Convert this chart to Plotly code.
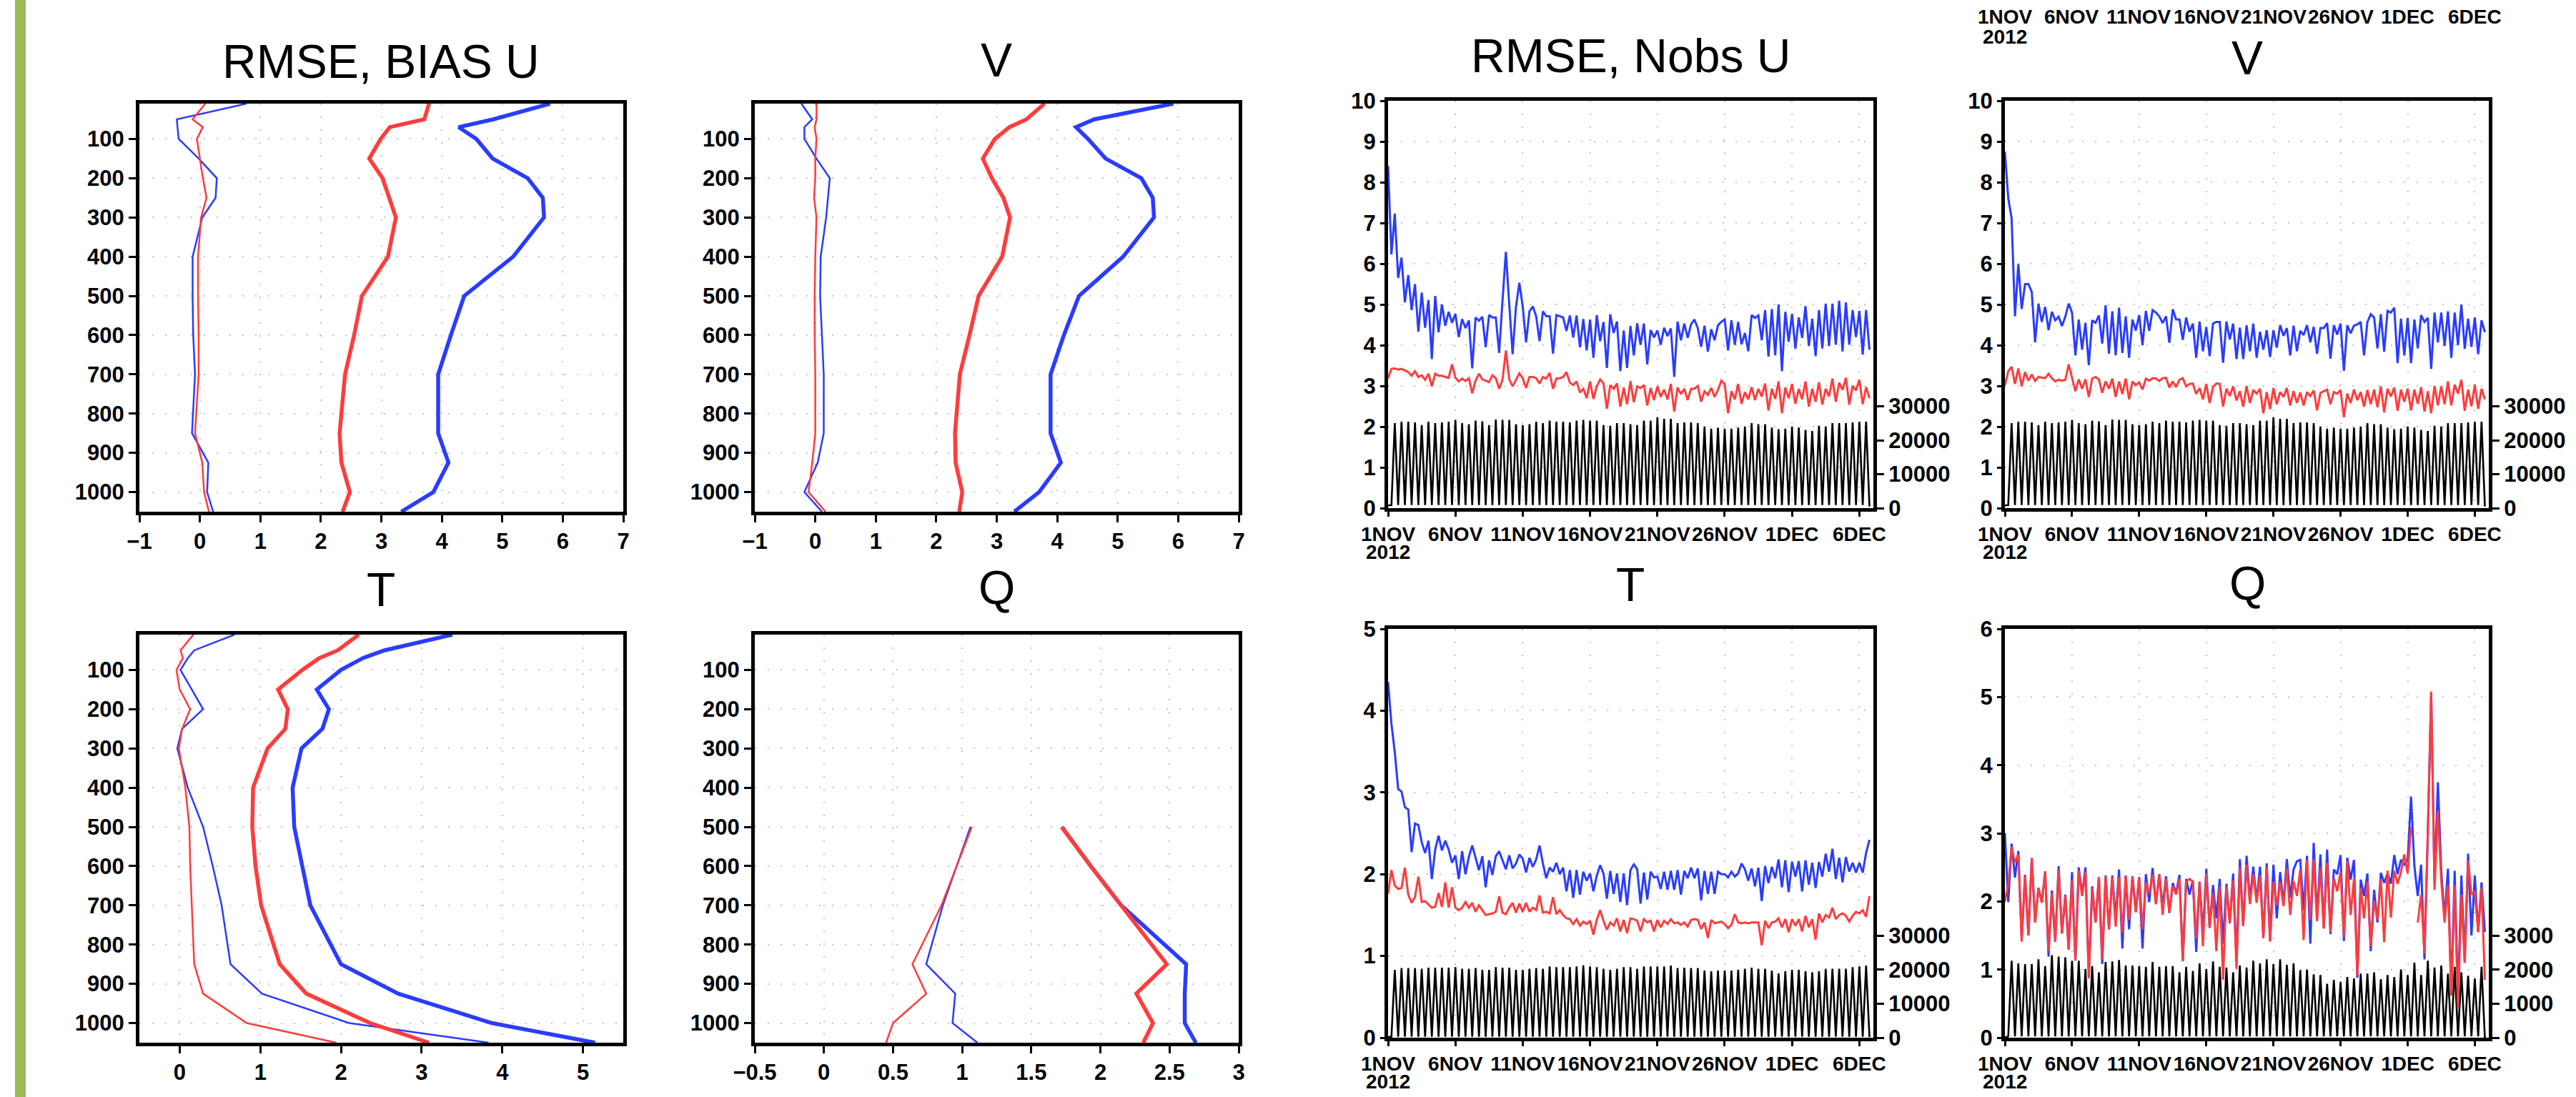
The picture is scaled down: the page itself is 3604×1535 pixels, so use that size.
import plotly.graph_objects as go
import pandas as pd

W, H = 3604, 1535

# ---------------- vertical profiles (pressure levels, hPa) ----------------
levels = [10, 50, 70, 100, 150, 200, 250, 300, 400, 500, 600, 700, 850, 925, 1000, 1050]
q_levels = [500, 600, 700, 850, 925, 1000, 1050]

u_rmse_blue = [5.79, 4.85, 4.28, 4.57, 4.84, 5.42, 5.67, 5.69, 5.18, 4.37, 4.15, 3.94, 3.94, 4.11, 3.86, 3.33]
u_rmse_red = [3.79, 3.71, 3.14, 2.99, 2.80, 3.02, 3.13, 3.24, 3.11, 2.68, 2.55, 2.40, 2.31, 2.34, 2.48, 2.36]
u_bias_blue = [0.77, -0.38, -0.37, -0.35, -0.02, 0.28, 0.26, 0.04, -0.12, -0.12, -0.11, -0.08, -0.13, 0.14, 0.12, 0.22]
u_bias_red = [0.09, -0.12, 0.05, -0.05, 0.0, 0.05, 0.11, 0.02, -0.03, -0.03, -0.02, -0.02, -0.08, 0.04, 0.07, 0.15]

v_rmse_blue = [5.92, 4.61, 4.31, 4.51, 4.80, 5.39, 5.58, 5.60, 5.09, 4.36, 4.11, 3.89, 3.89, 4.06, 3.70, 3.29]
v_rmse_red = [3.79, 3.49, 3.21, 2.97, 2.77, 2.92, 3.11, 3.22, 3.09, 2.70, 2.55, 2.39, 2.31, 2.32, 2.43, 2.38]
v_bias_blue = [-0.23, -0.05, -0.18, -0.18, 0.02, 0.24, 0.21, 0.18, 0.09, 0.08, 0.11, 0.14, 0.14, 0.04, -0.18, 0.11]
v_bias_red = [0.02, 0.02, -0.01, 0.02, 0.0, 0.0, -0.02, 0.02, 0.0, -0.01, -0.01, 0.0, 0.0, -0.05, -0.11, 0.17]

t_rmse_blue = [3.38, 2.54, 2.27, 2.0, 1.70, 1.85, 1.77, 1.51, 1.40, 1.42, 1.52, 1.62, 2.0, 2.71, 3.87, 5.15]
t_rmse_red = [2.22, 1.96, 1.73, 1.52, 1.22, 1.34, 1.31, 1.09, 0.91, 0.90, 0.94, 1.01, 1.24, 1.57, 2.36, 3.09]
t_bias_blue = [0.68, 0.18, 0.10, 0.01, 0.15, 0.29, 0.03, -0.03, 0.10, 0.29, 0.41, 0.52, 0.63, 1.02, 2.10, 3.83]
t_bias_red = [0.17, 0.01, 0.04, -0.04, 0.0, 0.13, 0.03, -0.01, 0.07, 0.12, 0.13, 0.15, 0.18, 0.29, 0.83, 1.94]

q_rmse_blue = [1.72, 1.93, 2.15, 2.62, 2.61, 2.61, 2.69]
q_rmse_red = [1.72, 1.93, 2.15, 2.48, 2.26, 2.38, 2.31]
q_bias_blue = [1.06, 0.96, 0.86, 0.74, 0.95, 0.93, 1.11]
q_bias_red = [1.07, 0.96, 0.85, 0.64, 0.74, 0.50, 0.45]

# ---------------- time series (6-hourly from 1 Nov 2012 00Z) ----------------
times = pd.date_range("2012-11-01 00:00", periods=144, freq="6h")

ts_u_blue = [8.4, 6.23, 7.23, 5.65, 6.15, 5.05, 5.72, 4.86, 5.50, 4.33,
             5.29, 4.43, 5.11, 3.66, 5.21, 4.32, 5.0, 4.48, 4.82, 4.55,
             4.77, 4.20, 4.64, 4.42, 4.61, 3.43, 4.68, 4.60, 4.70, 3.95,
             4.74, 4.68, 4.68, 3.81, 5.1, 6.29, 5.0, 3.78, 4.95, 5.53,
             4.95, 4.07, 4.83, 4.95, 4.71, 4.10, 4.83, 4.71, 4.71, 3.79,
             4.74, 4.71, 4.68, 4.35, 4.73, 4.19, 4.73, 3.95, 4.64, 3.87,
             4.63, 3.69, 4.74, 4.10, 4.57, 3.44, 4.76, 4.30, 4.58, 3.36,
             4.36, 3.44, 4.47, 3.75, 4.54, 4.01, 4.53, 3.53, 4.37, 4.19,
             4.36, 4.01, 4.43, 4.22, 4.41, 3.22, 4.58, 4.12, 4.53, 4.18,
             4.51, 4.63, 4.42, 3.96, 4.48, 3.84, 4.39, 4.12, 4.49, 4.57,
             4.63, 3.87, 4.61, 4.01, 4.57, 4.02, 4.30, 3.85, 4.74, 4.67,
             4.73, 4.12, 4.86, 3.72, 4.89, 3.75, 5.0, 3.36, 4.82, 4.08,
             4.77, 3.91, 4.68, 4.18, 4.96, 3.98, 4.65, 3.73, 4.86, 3.92,
             5.02, 3.98, 5.02, 4.01, 5.09, 3.85, 5.05, 4.01, 4.86, 4.20,
             4.84, 3.77, 4.86, 3.89]
ts_u_red = [3.19, 3.42, 3.43, 3.40, 3.42, 3.38, 3.34, 3.25, 3.36, 3.22,
            3.26, 3.15, 3.30, 2.99, 3.30, 3.25, 3.25, 3.22, 3.20, 3.53,
            3.20, 3.11, 3.18, 3.12, 3.19, 2.82, 3.13, 3.30, 3.16, 3.13,
            3.09, 3.26, 3.19, 2.93, 3.15, 3.87, 3.16, 2.99, 3.16, 3.31,
            3.19, 2.95, 3.22, 3.22, 3.19, 3.06, 3.22, 3.18, 3.32, 2.93,
            3.18, 3.19, 3.22, 3.34, 3.08, 3.02, 3.11, 2.84, 2.93, 2.70,
            3.11, 2.68, 2.99, 3.16, 3.06, 2.44, 3.02, 2.93, 3.06, 2.49,
            2.96, 2.55, 3.12, 2.60, 2.99, 2.95, 3.02, 2.52, 2.95, 2.65,
            2.99, 2.73, 2.91, 2.67, 3.05, 2.37, 2.96, 2.80, 2.93, 2.65,
            2.93, 2.93, 3.00, 2.61, 2.87, 2.78, 2.95, 2.73, 2.90, 3.13,
            3.05, 2.33, 2.87, 2.67, 3.05, 2.56, 2.85, 2.67, 2.97, 2.65,
            2.93, 2.74, 3.06, 2.40, 2.93, 2.68, 3.11, 2.33, 2.96, 2.70,
            3.05, 2.56, 2.93, 2.67, 3.11, 2.49, 2.93, 2.61, 3.09, 2.54,
            2.93, 2.74, 3.18, 2.61, 3.08, 2.90, 3.20, 2.54, 3.00, 2.89,
            3.15, 2.55, 2.97, 2.70]

ts_v_blue = [8.75, 7.61, 7.11, 4.71, 5.99, 4.89, 5.50, 5.50, 5.31, 4.07,
             5.02, 4.57, 4.94, 4.37, 4.82, 4.61, 4.70, 4.47, 4.70, 5.02,
             4.80, 3.75, 4.63, 3.89, 4.55, 3.51, 4.61, 4.55, 4.73, 4.04,
             4.98, 3.79, 4.83, 3.75, 4.92, 3.81, 4.71, 3.69, 4.63, 4.36,
             4.74, 4.00, 4.84, 4.35, 4.86, 4.80, 4.71, 4.54, 4.71, 4.06,
             4.88, 4.63, 4.63, 4.13, 4.68, 4.33, 4.53, 3.69, 4.58, 3.85,
             4.45, 3.73, 4.53, 4.57, 4.57, 3.57, 4.58, 4.14, 4.53, 3.66,
             4.43, 3.66, 4.49, 3.85, 4.53, 3.69, 4.33, 3.89, 4.37, 3.71,
             4.37, 3.94, 4.49, 4.23, 4.42, 3.75, 4.48, 3.85, 4.35, 4.25,
             4.49, 4.07, 4.45, 3.79, 4.42, 4.42, 4.54, 3.67, 4.49, 4.26,
             4.53, 3.37, 4.49, 4.29, 4.48, 4.51, 4.57, 3.75, 4.57, 4.76,
             4.68, 3.92, 4.76, 3.84, 4.84, 4.80, 4.92, 3.56, 4.65, 3.75,
             4.67, 3.56, 4.63, 3.92, 4.74, 4.57, 4.67, 3.42, 4.80, 4.07,
             4.80, 3.98, 4.83, 3.69, 4.80, 4.00, 5.00, 3.91, 4.65, 3.96,
             4.68, 3.78, 4.61, 4.32]
ts_v_red = [3.02, 3.36, 3.47, 3.05, 3.43, 2.99, 3.34, 3.13, 3.28, 3.12,
            3.22, 3.20, 3.19, 3.30, 3.19, 3.11, 3.15, 3.13, 3.15, 3.53,
            3.19, 2.87, 3.16, 2.93, 3.16, 2.73, 3.18, 3.22, 3.16, 2.83,
            3.11, 2.93, 3.18, 2.73, 3.11, 2.80, 3.18, 2.67, 3.11, 3.02,
            3.09, 2.91, 3.18, 3.13, 3.19, 3.18, 3.12, 3.19, 3.20, 2.96,
            3.11, 2.97, 3.15, 3.19, 2.99, 3.05, 3.06, 2.80, 2.95, 2.67,
            3.05, 2.58, 2.97, 3.06, 3.05, 2.49, 2.93, 2.75, 2.99, 2.64,
            2.87, 2.49, 3.00, 2.58, 2.90, 2.81, 2.93, 2.33, 2.85, 2.43,
            2.95, 2.55, 2.85, 2.73, 2.95, 2.52, 2.87, 2.58, 2.84, 2.52,
            2.85, 2.75, 2.89, 2.40, 2.83, 2.87, 2.91, 2.55, 2.85, 2.81,
            2.90, 2.23, 2.81, 2.58, 2.91, 2.65, 2.85, 2.49, 2.90, 2.55,
            2.91, 2.48, 2.99, 2.35, 2.93, 2.74, 2.96, 2.39, 2.91, 2.61,
            2.93, 2.40, 2.91, 2.56, 2.97, 2.37, 2.87, 2.33, 3.00, 2.52,
            2.99, 2.55, 3.11, 2.52, 3.03, 2.81, 3.15, 2.39, 2.91, 2.50,
            3.03, 2.44, 2.93, 2.67]

ts_t_blue = [4.35, 3.84, 3.49, 3.04, 3.01, 2.82, 2.79, 2.27, 2.62, 2.60,
             2.39, 2.26, 2.41, 1.94, 2.30, 2.47, 2.29, 2.41, 2.30, 2.14,
             2.23, 1.94, 2.28, 2.00, 2.21, 2.35, 2.20, 2.05, 2.22, 1.84,
             2.17, 1.99, 2.22, 2.28, 2.17, 2.06, 2.23, 2.07, 2.13, 2.24,
             2.19, 2.02, 2.20, 2.09, 2.18, 2.35, 2.13, 1.95, 2.08, 2.03,
             2.14, 2.00, 2.08, 1.79, 2.05, 1.71, 2.05, 1.75, 2.03, 1.92,
             2.01, 1.79, 1.98, 2.11, 2.01, 1.70, 2.04, 1.76, 2.01, 1.66,
             2.01, 1.62, 2.05, 2.12, 2.06, 1.64, 2.02, 1.69, 2.03, 1.96,
             1.97, 1.82, 2.03, 1.81, 2.04, 1.81, 2.05, 1.75, 2.04, 1.95,
             2.08, 1.95, 2.07, 1.68, 2.04, 1.76, 2.03, 1.76, 2.03, 2.00,
             2.00, 1.96, 2.03, 1.97, 2.01, 2.13, 2.06, 1.92, 2.07, 1.85,
             2.08, 1.67, 2.10, 1.89, 2.09, 1.95, 2.18, 1.84, 2.17, 1.78,
             2.15, 1.97, 2.16, 1.79, 2.17, 1.87, 2.14, 1.83, 2.15, 1.97,
             2.25, 2.03, 2.31, 1.94, 2.20, 1.90, 2.21, 2.03, 2.14, 2.02,
             2.14, 2.02, 2.26, 2.42]
ts_t_red = [1.76, 2.05, 1.86, 1.82, 1.83, 2.08, 1.75, 1.65, 1.72, 1.97,
            1.66, 1.67, 1.63, 1.59, 1.60, 1.77, 1.60, 1.90, 1.59, 1.84,
            1.59, 1.56, 1.59, 1.66, 1.59, 1.65, 1.54, 1.62, 1.56, 1.50,
            1.51, 1.52, 1.54, 1.73, 1.53, 1.51, 1.59, 1.65, 1.53, 1.64,
            1.54, 1.65, 1.54, 1.59, 1.56, 1.74, 1.53, 1.54, 1.52, 1.72,
            1.51, 1.56, 1.50, 1.46, 1.45, 1.39, 1.45, 1.37, 1.42, 1.39,
            1.43, 1.26, 1.44, 1.56, 1.43, 1.32, 1.41, 1.37, 1.46, 1.30,
            1.44, 1.28, 1.46, 1.45, 1.43, 1.30, 1.45, 1.41, 1.43, 1.30,
            1.44, 1.35, 1.43, 1.39, 1.45, 1.40, 1.41, 1.38, 1.41, 1.36,
            1.44, 1.45, 1.44, 1.33, 1.41, 1.22, 1.44, 1.40, 1.41, 1.42,
            1.39, 1.34, 1.38, 1.51, 1.41, 1.40, 1.41, 1.40, 1.41, 1.41,
            1.41, 1.13, 1.43, 1.34, 1.41, 1.42, 1.46, 1.35, 1.45, 1.29,
            1.45, 1.37, 1.45, 1.30, 1.49, 1.35, 1.45, 1.20, 1.52, 1.41,
            1.50, 1.47, 1.59, 1.45, 1.50, 1.52, 1.49, 1.42, 1.49, 1.54,
            1.52, 1.56, 1.48, 1.73]

ts_q_blue = [3.0, 1.99, 2.85, 2.35, 2.74, 1.45, 2.39, 1.50, 2.62, 1.69,
             2.20, 1.99, 2.44, 1.19, 2.16, 1.41, 2.52, 1.53, 2.10, 1.29,
             2.43, 1.13, 2.50, 2.10, 2.50, 0.92, 2.22, 1.69, 2.36, 1.08,
             2.38, 1.59, 2.38, 1.74, 2.47, 1.31, 2.38, 1.59, 2.37, 1.85,
             2.35, 1.31, 2.40, 1.99, 2.49, 1.96, 2.40, 1.92, 2.37, 1.83,
             2.27, 2.12, 2.39, 1.13, 2.33, 2.10, 2.31, 1.26, 2.29, 1.52,
             2.48, 1.61, 2.24, 1.75, 2.33, 1.38, 2.26, 1.68, 2.41, 1.13,
             2.62, 1.64, 2.67, 2.01, 2.51, 2.00, 2.51, 1.48, 2.56, 1.43,
             2.54, 1.75, 2.43, 1.96, 2.62, 2.05, 2.47, 2.59, 2.61, 1.87,
             2.67, 1.38, 2.86, 1.75, 2.69, 1.61, 2.76, 1.52, 2.47, 2.40,
             2.68, 1.42, 2.64, 2.32, 2.61, 0.88, 2.32, 2.08, 2.41, 1.27,
             2.17, 1.69, 2.42, 2.27, 2.41, 2.26, 2.68, 2.40, 2.61, 2.54,
             2.61, 3.54, 2.52, 2.08, 2.54, 1.15, 3.0, 5.05, 2.30, 3.75,
             2.45, 1.75, 2.48, 0.65, 2.45, 0.55, 2.38, 1.10, 2.70, 1.50,
             2.38, 1.55, 2.28, 1.55]
ts_q_red = [2.0, 2.25, 2.80, 2.57, 2.69, 1.41, 2.38, 1.50, 2.64, 1.69,
            2.20, 1.98, 2.43, 1.27, 2.12, 1.41, 2.47, 1.53, 2.08, 1.29,
            2.32, 1.13, 2.45, 2.08, 2.43, 0.87, 2.19, 1.69, 2.36, 1.15,
            2.37, 1.59, 2.36, 1.63, 2.36, 1.54, 2.37, 1.73, 2.36, 1.84,
            2.36, 1.59, 2.28, 2.12, 2.40, 1.96, 2.40, 1.80, 2.33, 1.84,
            2.23, 2.10, 2.33, 1.12, 2.29, 2.33, 2.29, 1.45, 2.29, 1.34,
            2.41, 1.62, 2.12, 1.27, 2.22, 0.85, 2.22, 1.69, 2.31, 1.01,
            2.50, 1.64, 2.54, 1.96, 2.40, 1.98, 2.38, 1.46, 2.51, 1.41,
            2.29, 1.94, 2.29, 1.93, 2.49, 1.80, 2.30, 2.08, 2.47, 1.43,
            2.61, 1.73, 2.62, 1.71, 2.50, 1.60, 2.57, 1.55, 2.34, 2.15,
            2.44, 1.48, 2.59, 1.80, 2.34, 0.92, 2.20, 1.75, 2.29, 1.34,
            2.01, 1.73, 2.33, 1.40, 2.45, 1.76, 2.45, 2.26, 2.43, 2.69,
            2.41, 3.10, None, 1.69, 2.10, 1.24, 3.0, 5.08, 2.17, 3.33,
            2.30, 1.69, 2.24, 0.62, 2.24, 0.43, 2.10, 1.10, 2.60, 2.10,
            2.15, 1.55, 2.20, 0.85]

nobs_wind = [800, 900, 25060, 900, 25470, 900, 25470, 900, 25270, 900,
             24450, 900, 25470, 900, 25060, 900, 25270, 900, 25470, 900,
             25980, 900, 25060, 900, 24750, 900, 25770, 900, 25570, 900,
             24450, 900, 26080, 900, 25980, 900, 25980, 900, 24750, 900,
             24450, 900, 24750, 900, 25470, 900, 25060, 900, 25770, 900,
             25470, 900, 25470, 900, 25270, 900, 25770, 900, 25980, 900,
             25770, 900, 25770, 900, 24450, 900, 24250, 900, 25060, 900,
             25060, 900, 24750, 900, 24450, 900, 25770, 900, 25770, 900,
             26790, 900, 26280, 900, 26280, 900, 25060, 900, 25270, 900,
             25270, 900, 25060, 900, 24040, 900, 23430, 900, 23740, 900,
             23430, 900, 23430, 900, 23740, 900, 24040, 900, 25060, 900,
             24750, 900, 24750, 900, 23740, 900, 23230, 900, 23430, 900,
             24040, 900, 23740, 900, 23020, 900, 22720, 900, 24250, 900,
             24040, 900, 25060, 900, 25060, 900, 25060, 900, 25270, 900,
             25470, 900, 25470, 500]
nobs_t = [200, 300, 19900, 300, 20420, 300, 20420, 300, 20420, 300,
          20220, 300, 20530, 300, 20530, 300, 20530, 300, 20530, 300,
          20730, 300, 20220, 300, 20220, 300, 20420, 300, 19900, 300,
          19900, 300, 20730, 300, 20530, 300, 20530, 300, 19900, 300,
          19900, 300, 20220, 300, 20420, 300, 20220, 300, 20940, 300,
          20730, 300, 20730, 300, 20730, 300, 20940, 300, 21250, 300,
          20940, 300, 20730, 300, 20220, 300, 19900, 300, 20220, 300,
          20730, 300, 20730, 300, 20220, 300, 20940, 300, 20940, 300,
          20940, 300, 20940, 300, 21150, 300, 20420, 300, 20530, 300,
          20420, 300, 20420, 300, 19700, 300, 19490, 300, 19700, 300,
          19700, 300, 19700, 300, 19900, 300, 20220, 300, 20530, 300,
          20220, 300, 20220, 300, 19700, 300, 18870, 300, 19490, 300,
          19900, 300, 19900, 300, 19490, 300, 19180, 300, 19490, 300,
          20220, 300, 20220, 300, 20220, 300, 20220, 300, 20730, 300,
          20940, 300, 21150, 200]
nobs_q = [0, 40, 2260, 40, 2180, 40, 2160, 40, 2160, 40,
          2300, 40, 2100, 40, 2420, 40, 2380, 40, 2360, 40,
          2260, 40, 2260, 40, 2020, 40, 2100, 40, 1920, 40,
          2220, 40, 2240, 40, 2280, 40, 2120, 40, 2120, 40,
          2100, 40, 2080, 40, 2220, 40, 2080, 40, 2100, 40,
          2100, 40, 1920, 40, 2080, 40, 1960, 40, 2180, 40,
          2020, 40, 2240, 40, 2080, 40, 2060, 40, 1920, 40,
          2120, 40, 2060, 40, 2260, 40, 2180, 40, 2300, 40,
          2160, 40, 2300, 40, 2140, 40, 2180, 40, 1980, 40,
          2000, 40, 1860, 40, 1840, 40, 1580, 40, 1700, 40,
          1640, 40, 1780, 40, 1740, 40, 1880, 40, 1880, 40,
          1920, 40, 1720, 40, 1840, 40, 1780, 40, 2000, 40,
          1840, 40, 2200, 40, 1840, 40, 2260, 40, 2060, 40,
          2120, 40, 1880, 40, 2080, 40, 1920, 40, 1820, 40,
          1740, 40, 2080, 0]

date_ticks = ["2012-11-01", "2012-11-06", "2012-11-11", "2012-11-16",
              "2012-11-21", "2012-11-26", "2012-12-01", "2012-12-06"]
date_labels = ["1NOV", "6NOV", "11NOV", "16NOV", "21NOV", "26NOV", "1DEC", "6DEC"]
year_label = "2012"

# ---------------- styling ----------------
BLUE = "#2a3cff"
RED = "#ff3c3c"
GRID = "#c4c4c4"
SANS = "Liberation Sans, Arial, sans-serif"
TICKFONT = dict(family=SANS, size=31, color="black", weight="bold")
DATEFONT = dict(family=SANS, size=28, color="black", weight="bold")
TITLEFONT = dict(family=SANS, size=66, color="black")


def xdom(a, b):
    return [a / W, b / W]


def ydom(top, bottom):
    return [1 - bottom / H, 1 - top / H]


common = dict(showline=True, linecolor="black", linewidth=5, mirror=True,
              ticks="outside", ticklen=10, tickwidth=3, tickcolor="black",
              showgrid=True, gridcolor=GRID, gridwidth=2, griddash="2px,16px",
              zeroline=False, automargin=False, tickangle=0)

fig = go.Figure()
layout = {}

prof_ticks_uv = ([-1, 0, 1, 2, 3, 4, 5, 6, 7], ["\u22121", "0", "1", "2", "3", "4", "5", "6", "7"])
prof_ticks_t = ([0, 1, 2, 3, 4, 5], ["0", "1", "2", "3", "4", "5"])
prof_ticks_q = ([-0.5, 0, 0.5, 1, 1.5, 2, 2.5, 3],
                ["\u22120.5", "0", "0.5", "1", "1.5", "2", "2.5", "3"])

profiles = [
    (1, (195, 872), (145, 716), [-1, 7], prof_ticks_uv, levels,
     [u_rmse_blue, u_rmse_red, u_bias_blue, u_bias_red]),
    (2, (1056, 1733), (145, 716), [-1, 7], prof_ticks_uv, levels,
     [v_rmse_blue, v_rmse_red, v_bias_blue, v_bias_red]),
    (5, (195, 872), (888, 1459), [-0.5, 5.5], prof_ticks_t, levels,
     [t_rmse_blue, t_rmse_red, t_bias_blue, t_bias_red]),
    (6, (1056, 1733), (888, 1459), [-0.5, 3], prof_ticks_q, q_levels,
     [q_rmse_blue, q_rmse_red, q_bias_blue, q_bias_red]),
]

for n, (xa, xb), (yt, yb), xr, (tv, tt), lev, (rb, rr, bb, br) in profiles:
    xs = "x" if n == 1 else f"x{n}"
    ys = "y" if n == 1 else f"y{n}"
    layout["xaxis" if n == 1 else f"xaxis{n}"] = dict(
        common, domain=xdom(xa, xb), range=xr, tickmode="array", tickvals=tv,
        ticktext=tt, tickfont=TICKFONT, anchor=ys)
    layout["yaxis" if n == 1 else f"yaxis{n}"] = dict(
        common, domain=ydom(yt, yb), range=[1050, 10], tickmode="array",
        tickvals=[100, 200, 300, 400, 500, 600, 700, 800, 900, 1000],
        tickfont=TICKFONT, anchor=xs)
    for vals, col, w in [(bb, BLUE, 2.5), (br, RED, 2.5), (rb, BLUE, 5.5), (rr, RED, 5.5)]:
        fig.add_trace(go.Scatter(x=vals, y=lev, mode="lines", xaxis=xs, yaxis=ys,
                                 line=dict(color=col, width=w), showlegend=False))

# time-series panels: base axis = Nobs (right side), overlay axis = RMSE (left side)
series = [
    (3, 9, (1942, 2621), (141, 711), 10, 120000, ["0", "10000", "20000", "30000"],
     [0, 10000, 20000, 30000], nobs_wind, ts_u_blue, ts_u_red, 772),
    (4, 10, (2805, 3482), (141, 711), 10, 120000, ["0", "10000", "20000", "30000"],
     [0, 10000, 20000, 30000], nobs_wind, ts_v_blue, ts_v_red, 772),
    (7, 11, (1942, 2621), (880, 1452), 5, 120000, ["0", "10000", "20000", "30000"],
     [0, 10000, 20000, 30000], nobs_t, ts_t_blue, ts_t_red, 1513),
    (8, 12, (2805, 3482), (880, 1452), 6, 12000, ["0", "1000", "2000", "3000"],
     [0, 1000, 2000, 3000], nobs_q, ts_q_blue, ts_q_red, 1513),
]

annotations = []
for n, m, (xa, xb), (yt, yb), ymax, nmax, ntt, ntv, nobs, blue, red, ypos in series:
    layout[f"xaxis{n}"] = dict(
        common, domain=xdom(xa, xb), type="date",
        range=["2012-11-01 00:00", "2012-12-07 01:00"], tickmode="array",
        tickvals=date_ticks, ticktext=date_labels,
        tickfont=DATEFONT, anchor=f"y{n}", ticklen=7)
    layout[f"yaxis{n}"] = dict(
        common, domain=ydom(yt, yb), range=[0, nmax], side="right",
        tickmode="array", tickvals=ntv, ticktext=ntt, showgrid=False,
        tickfont=TICKFONT, anchor=f"x{n}")
    layout[f"yaxis{m}"] = dict(
        common, domain=ydom(yt, yb), range=[0, ymax], side="left",
        overlaying=f"y{n}", anchor=f"x{n}", showline=False, mirror=False,
        tickmode="array", tickvals=list(range(0, ymax + 1)), tickfont=TICKFONT)
    fig.add_trace(go.Scatter(x=times, y=nobs, mode="lines", xaxis=f"x{n}", yaxis=f"y{n}",
                             line=dict(color="black", width=2.6), showlegend=False))
    fig.add_trace(go.Scatter(x=times, y=blue, mode="lines", xaxis=f"x{n}", yaxis=f"y{m}",
                             line=dict(color=BLUE, width=3), showlegend=False))
    fig.add_trace(go.Scatter(x=times, y=red, mode="lines", xaxis=f"x{n}", yaxis=f"y{m}",
                             line=dict(color=RED, width=3), showlegend=False))
    # year under the first date label
    annotations.append(dict(text=year_label, x=date_ticks[0], xref=f"x{n}",
                            y=1 - ypos / H, yref="paper", xanchor="center",
                            yanchor="middle", showarrow=False, font=DATEFONT))

# panel titles
titles = [("RMSE, BIAS U", 533, 86), ("V", 1394, 84), ("RMSE, Nobs U", 2281, 78),
          ("V", 3144, 81), ("T", 533, 825), ("Q", 1394, 822), ("T", 2281, 818),
          ("Q", 3144, 816)]
annotations += [dict(text=t, x=px / W, y=1 - py / H, xref="paper", yref="paper",
                     xanchor="center", yanchor="middle", showarrow=False, font=TITLEFONT)
                for t, px, py in titles]

# clipped date labels of a previous panel visible at the top right edge
for d, lab in zip(date_ticks, date_labels):
    annotations.append(dict(text=lab, x=d, xref="x4", y=1 - 23 / H, yref="paper",
                            xanchor="center", yanchor="middle", showarrow=False,
                            font=DATEFONT))
annotations.append(dict(text=year_label, x=date_ticks[0], xref="x4", y=1 - 52 / H,
                        yref="paper", xanchor="center", yanchor="middle",
                        showarrow=False, font=DATEFONT))

fig.update_layout(
    **layout,
    annotations=annotations,
    shapes=[dict(type="rect", xref="paper", yref="paper", x0=21 / W, x1=36 / W,
                 y0=0, y1=1, fillcolor="#9bbb59", line=dict(width=0), layer="below")],
    template="none",
    width=W, height=H, autosize=False,
    margin=dict(l=0, r=0, t=0, b=0, pad=0),
    paper_bgcolor="white", plot_bgcolor="white",
    font=dict(family=SANS, color="black"),
    showlegend=False,
)

fig.write_html("out.html", config={"displayModeBar": False},
               post_script="document.body.style.margin='0';document.body.style.overflow='hidden';")
